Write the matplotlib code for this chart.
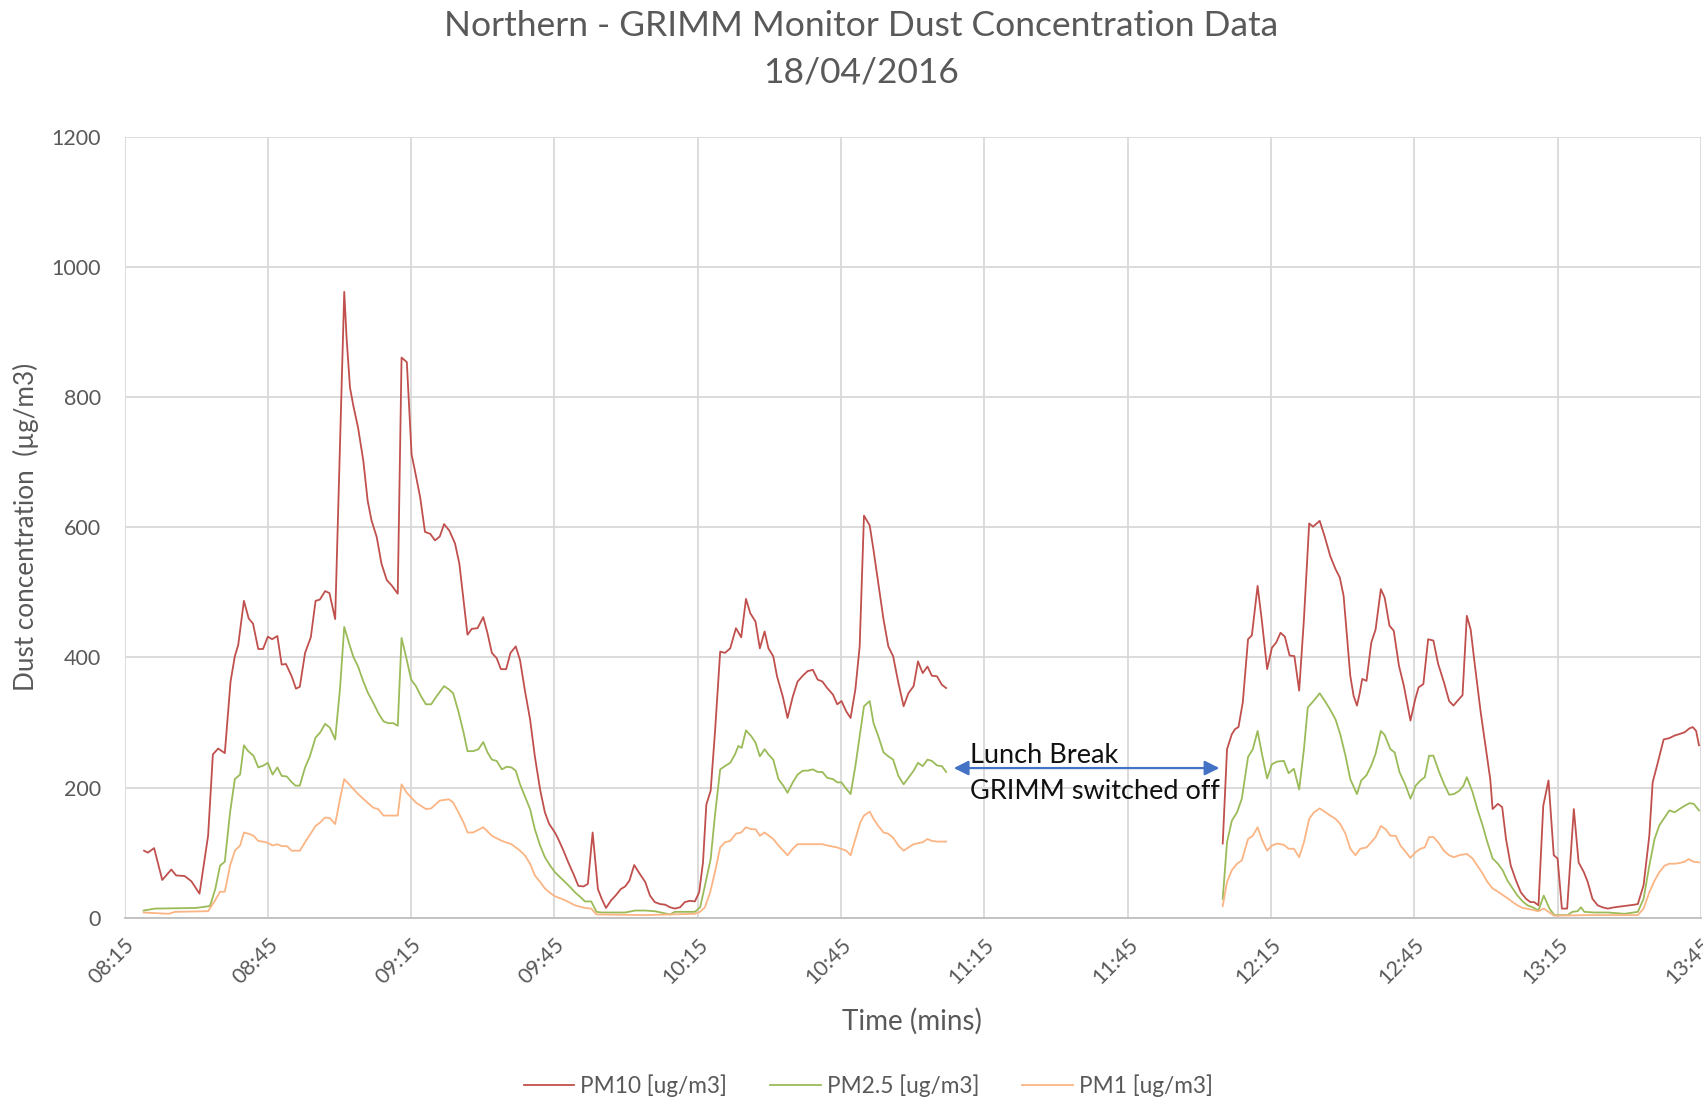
import numpy as np
import matplotlib
matplotlib.use("Agg")
import matplotlib.pyplot as plt

# ---------------- data (minutes after 08:15) ----------------
pm10_time = [4.1, 4.9, 6.2, 7.9, 9.8, 10.8, 12.6, 14, 15.7, 17.5, 18.5, 19.6, 21, 22.2, 23.1, 23.8, 25, 26, 26.9, 28,
             29, 30, 30.9, 32, 32.9, 33.8, 35, 35.9, 36.7, 37.8, 39, 40, 40.9, 42, 42.9, 44.1, 46.0, 46.5, 47.2, 47.9,
             48.9, 50, 50.9, 51.7, 52.8, 53.8, 54.9, 55.9, 57.2, 58.0, 59.1, 60.1, 60.8, 61.9, 62.9, 64, 65, 66, 66.9, 68,
             69.2, 70.1, 70.9, 71.8, 72.7, 73.9, 75.1, 76, 76.9, 77.9, 78.8, 79.9, 80.8, 81.9, 82.8, 83.8, 84.9, 85.9, 87, 88,
             88.9, 90.1, 90.8, 91.9, 92.9, 94, 95, 96.1, 97, 98, 99.1, 99.9, 100.8, 101.9, 102.8, 103.9, 104.8, 105.7, 106.7, 107.9,
             109, 110, 111, 112.1, 113.2, 114.2, 115.2, 116.3, 117.3, 118.4, 119.4, 120.3, 121.1, 121.8, 122.7, 123.6, 124.7, 125.7, 126.8, 128,
             129.1, 130.1, 131, 132.1, 133, 134, 134.8, 135.8, 136.6, 137.8, 138.8, 139.9, 140.9, 142, 143, 144.1, 145.1, 146.1, 147.1, 148.3,
             149.2, 150.1, 151.1, 152, 153, 153.9, 154.8, 156, 156.8, 157.8, 158.9, 159.9, 160.9, 162, 163.1, 164.1, 165.2, 166.1, 167.1, 168.1,
             169, 170.1, 171.1, 172,
             229.9, 230.8, 231.8, 232.5, 233.2, 234.1, 235.2, 236, 237.2, 238.1, 239.2, 240.2, 241.1, 242, 242.9, 243.9, 244.9, 245.9, 246.9, 248,
             248.8, 250.2, 251.2, 252.4, 253.5, 254.4, 255.2, 255.9, 256.6, 257.3, 258, 258.6, 259.1, 260, 261, 261.9, 263, 263.8, 264.8, 265.7,
             266.8, 267.8, 269.2, 270.2, 270.9, 271.9, 272.9, 274, 275, 276.2, 277.3, 278.2, 279, 280.1, 281, 281.8, 282.7, 283.9, 285, 285.9,
             286.4, 287.5, 288.4, 289.2, 290.2, 291.3, 292.3, 293.4, 294.3, 295.1, 296, 297, 298.1, 299.2, 300, 300.9, 302, 303.4, 304.4, 305.5,
             306.3, 307.3, 308.4, 309.4, 310.5, 311.9, 314, 316.1, 316.8, 318, 319.2, 319.9, 321, 322.2, 323.4, 324.5, 325.4, 326.6, 327.6, 328.3,
             329, 329.6]
pm10_value = [103, 100, 107, 58, 74, 65, 64, 56, 37, 126, 251, 260, 253, 363, 402, 419, 487, 460, 452, 413,
              413, 432, 428, 433, 389, 390, 371, 352, 355, 407, 431, 487, 489, 502, 499, 459, 962, 890, 815, 787,
              753, 702, 641, 611, 585, 544, 519, 511, 498, 861, 854, 712, 687, 646, 593, 590, 580, 586, 605, 595,
              575, 544, 493, 435, 444, 445, 462, 437, 407, 399, 382, 382, 407, 417, 396, 350, 305, 248, 197, 162,
              144, 131, 121, 103, 85, 67, 49, 48, 52, 131, 44, 29, 15, 27, 34, 44, 48, 57, 81, 67,
              55, 34, 24, 21, 20, 16, 14, 16, 24, 26, 25, 39, 85, 174, 195, 284, 409, 407, 414, 445,
              431, 490, 468, 455, 414, 440, 414, 402, 371, 340, 307, 340, 363, 372, 379, 381, 366, 363, 353, 343,
              328, 333, 317, 307, 351, 417, 618, 603, 565, 514, 458, 417, 402, 361, 325, 345, 356, 394, 376, 386,
              372, 371, 358, 353,
              114, 259, 282, 290, 293, 331, 428, 434, 510, 456, 382, 415, 423, 438, 432, 403, 402, 349, 459, 606,
              601, 610, 587, 556, 536, 523, 495, 433, 372, 341, 326, 346, 367, 364, 423, 443, 505, 492, 449, 441,
              387, 357, 303, 336, 354, 359, 428, 426, 390, 362, 333, 326, 333, 342, 464, 443, 387, 316, 259, 213,
              167, 175, 170, 121, 80, 57, 39, 29, 24, 24, 19, 172, 211, 96, 91, 14, 14, 167, 85, 70,
              55, 29, 19, 16, 14, 16, 18, 20, 21, 50, 126, 208, 239, 274, 276, 280, 282, 285, 291, 293,
              287, 265]

pm25_time = [4, 6.4, 15, 17.9, 19, 20, 21, 22.1, 23.1, 24.2, 25, 25.9, 27, 28, 29.1, 30, 31, 32, 32.9, 34,
             34.9, 35.8, 36.7, 37.8, 38.8, 40, 40.9, 42, 43, 44.1, 45.1, 46, 47, 47.9, 48.9, 50, 51, 52.1, 53.1, 54.2,
             55.2, 56.3, 57.2, 58, 59.1, 60, 61, 62.1, 63.1, 64.2, 65.2, 66.9, 67.9, 68.8, 69.9, 71, 71.8, 73, 74.1, 75.1,
             76, 76.9, 77.9, 79, 80, 81, 81.9, 82.8, 83.8, 84.9, 85.9, 87, 88, 89.1, 90.1, 91.2, 92.2, 93.3, 94.3, 95.4,
             96.4, 97.7, 98.8, 99.9, 104.8, 106.9, 109, 111, 114.2, 115.2, 119.4, 120.5, 121.5, 122.7, 123.6, 124.7, 125.7, 126.8, 127.8, 128.5,
             129.2, 130.1, 131.2, 132.1, 133, 134, 134.8, 135.8, 136.9, 137.9, 138.8, 139.9, 140.9, 142, 143, 144.1, 145.1, 146.1, 147.1, 148.3,
             149.2, 150.1, 151.1, 152, 153, 154, 154.8, 156, 156.8, 157.8, 158.9, 159.9, 160.9, 162, 163.1, 164.1, 165.2, 166.1, 167.1, 168.1,
             169, 170.1, 171.1, 172,
             229.9, 230.8, 231.8, 232.9, 233.9, 235.2, 236.2, 237.2, 238.1, 239.2, 240.2, 241.3, 242.7, 243.7, 244.8, 245.9, 246.9, 247.7, 249, 250.2,
             251.2, 252.3, 253.5, 254.5, 255.6, 256.6, 258, 258.9, 260, 261, 261.9, 263, 263.8, 265, 265.9, 266.9, 268.2, 269.2, 270.3, 271.3,
             272.2, 273.1, 274, 275.2, 276.2, 277.3, 278.3, 279.4, 280.3, 281, 282.2, 283.2, 284.3, 285.3, 286.4, 287.5, 288.5, 289.5, 290.6, 291.6,
             292.7, 293.7, 294.8, 296, 297.1, 298.3, 299.3, 302.1, 303.1, 304.2, 304.9, 305.6, 307.7, 310.5, 314, 316.8, 318, 319.2, 320.3, 321.3,
             322.4, 323.4, 324.5, 325.5, 326.6, 327.6, 328.5, 329.6]
pm25_value = [11, 14, 15, 18, 44, 80, 86, 162, 213, 220, 265, 256, 249, 231, 234, 238, 220, 231, 218, 217,
              209, 203, 203, 231, 248, 277, 284, 298, 292, 274, 351, 447, 422, 401, 386, 363, 345, 330, 315, 302,
              299, 299, 295, 430, 396, 366, 356, 340, 328, 328, 339, 356, 351, 345, 317, 284, 256, 256, 259, 270,
              254, 243, 241, 228, 232, 231, 226, 205, 187, 167, 136, 111, 93, 80, 70, 62, 55, 47, 39, 32,
              25, 25, 9, 8, 8, 11, 11, 10, 5, 9, 9, 16, 49, 90, 157, 228, 233, 238, 251, 264,
              261, 288, 279, 269, 248, 259, 251, 243, 213, 203, 192, 208, 220, 226, 226, 228, 224, 224, 215, 213,
              208, 208, 198, 190, 233, 284, 325, 333, 299, 279, 254, 248, 243, 218, 205, 215, 226, 238, 233, 243,
              241, 234, 233, 224,
              29, 116, 149, 162, 183, 247, 259, 287, 252, 214, 236, 240, 241, 222, 229, 197, 259, 323, 334, 345,
              334, 321, 305, 282, 249, 213, 190, 211, 219, 234, 252, 287, 281, 259, 254, 224, 203, 183, 203, 211,
              216, 249, 249, 224, 206, 189, 190, 195, 203, 216, 193, 167, 142, 116, 91, 83, 73, 57, 45, 34,
              25, 19, 16, 11, 34, 14, 4, 4, 9, 10, 16, 9, 8, 8, 6, 9, 29, 80, 121, 142,
              154, 165, 162, 167, 172, 176, 175, 165]

pm1_time = [4, 9.2, 10.6, 17.5, 19, 20, 21, 22.1, 23.1, 24.2, 25, 26, 27, 28, 29, 30, 31, 32, 32.9, 34,
            35, 36.7, 37.8, 40, 40.9, 42, 43, 44.1, 45.1, 46, 47, 48.9, 51, 52.1, 53.1, 54.2, 56.3, 57.2, 58, 59.1,
            61, 63.1, 64.2, 66, 67.9, 68.8, 69.9, 71, 71.8, 73, 75.1, 76.9, 79, 81, 82.8, 83.8, 84.9, 85.9, 87, 88,
            89.1, 90.1, 92.2, 94.3, 96.4, 97.7, 98.8, 109, 114.2, 119.4, 120.5, 121.5, 122.6, 123.6, 124.7, 125.7, 126.8, 128, 129.1, 130.1,
            131.2, 132.1, 133, 134, 135.8, 136.9, 137.9, 138.8, 139.9, 140.9, 143, 146.1, 147.1, 149.2, 151.1, 152, 153, 154, 154.8, 156,
            156.8, 157.8, 158.9, 159.9, 160.9, 162, 163.1, 164.1, 165.2, 167.1, 168.1, 169, 170.1, 172,
            229.9, 230.8, 231.8, 232.9, 233.9, 235.2, 236.2, 237.2, 238.1, 239.2, 240.2, 241.3, 242.7, 243.7, 244.8, 245.9, 246.9, 248, 249, 250.2,
            251.2, 252.4, 253.5, 254.5, 255.6, 256.6, 257.7, 258.7, 260, 261, 261.9, 263, 264, 265, 266.1, 267.1, 268.2, 269.2, 270.3, 271.3,
            272.2, 273.1, 274, 275.2, 276.2, 277.3, 278.3, 279.4, 281, 282.2, 283.2, 284.3, 285.3, 286.4, 287.5, 288.5, 289.5, 290.6, 291.6, 292.7,
            294.1, 296, 297.1, 298.3, 299.3, 305.6, 316.8, 318, 319.2, 320.3, 321.3, 322.4, 323.4, 324.5, 325.5, 326.6, 327.4, 328.5, 329.6]
pm1_value = [8, 6, 9, 10, 27, 40, 40, 80, 103, 111, 131, 129, 126, 118, 117, 115, 111, 113, 110, 110,
             103, 103, 116, 141, 146, 154, 153, 144, 182, 213, 205, 190, 176, 169, 167, 157, 157, 157, 205, 192,
             177, 167, 168, 180, 182, 177, 162, 146, 131, 131, 139, 126, 118, 113, 103, 96, 83, 65, 55, 45,
             38, 33, 27, 19, 15, 14, 5, 4, 5, 6, 9, 16, 39, 70, 108, 116, 118, 129, 131, 139,
             136, 136, 126, 131, 121, 111, 103, 96, 106, 113, 113, 113, 111, 108, 103, 96, 121, 146, 157, 163,
             152, 141, 131, 129, 123, 111, 103, 108, 113, 116, 121, 118, 117, 117,
             18, 55, 73, 83, 88, 121, 126, 139, 120, 103, 111, 114, 112, 106, 106, 93, 116, 152, 162, 168,
             163, 157, 152, 144, 129, 106, 96, 106, 108, 116, 124, 141, 136, 126, 126, 111, 101, 92, 101, 106,
             108, 124, 124, 114, 103, 96, 93, 96, 98, 91, 80, 68, 55, 45, 40, 35, 30, 24, 19, 15,
             13, 10, 14, 8, 3, 4, 4, 14, 39, 57, 70, 80, 83, 83, 84, 86, 90, 86, 85]

tick_minutes = [0, 30, 60, 90, 120, 150, 180, 210, 240, 270, 300, 330]
tick_labels = ["08:15", "08:45", "09:15", "09:45", "10:15", "10:45", "11:15",
               "11:45", "12:15", "12:45", "13:15", "13:45"]
series_names = ["PM10 [ug/m3]", "PM2.5 [ug/m3]", "PM1 [ug/m3]"]
series_colors = ["#C0504D", "#9BBB59", "#FBB584"]

plt.rcParams['font.family'] = ['Lato', 'DejaVu Sans']
txt = "#595959"


def with_gaps(t, v):
    t = np.asarray(t, float)
    v = np.asarray(v, float)
    out_t, out_v = [t[0]], [v[0]]
    for i in range(1, len(t)):
        if t[i] - t[i - 1] > 20:
            out_t.append(np.nan)
            out_v.append(np.nan)
        out_t.append(t[i])
        out_v.append(v[i])
    return np.array(out_t), np.array(out_v)


fig = plt.figure(figsize=(17.03, 11.04), dpi=100)
ax = fig.add_axes([124.5 / 1703, 1 - 917.7 / 1104, (1700.9 - 124.5) / 1703, (917.7 - 137) / 1104])

for (t, v), name, col in zip([(pm10_time, pm10_value), (pm25_time, pm25_value), (pm1_time, pm1_value)],
                             series_names, series_colors):
    tt, vv = with_gaps(t, v)
    ax.plot(tt, vv, color=col, lw=1.3, label=name, solid_joinstyle='round')

ax.set_xlim(0, 330)
ax.set_ylim(0, 1200)
ax.set_yticks(range(0, 1201, 200))
ax.set_xticks(tick_minutes)
ax.set_xticklabels(tick_labels, rotation=45, ha='right', va='top', rotation_mode='anchor')
ax.tick_params(axis='both', length=0, labelsize=15.5, labelcolor=txt)
ax.tick_params(axis='y', pad=17)
ax.tick_params(axis='x', pad=12)
ax.grid(True, color="#D9D9D9", lw=1.3)
ax.set_axisbelow(True)
for s in ['top', 'right', 'left']:
    ax.spines[s].set_visible(False)
ax.spines['bottom'].set_color("#BFBFBF")
ax.spines['bottom'].set_linewidth(1.3)

fig.text(861 / 1703, 1 - 26 / 1104, "Northern - GRIMM Monitor Dust Concentration Data",
         ha='center', va='center', fontsize=25.5, color=txt)
fig.text(861 / 1703, 1 - 73 / 1104, "18/04/2016", ha='center', va='center', fontsize=25.5, color=txt)
fig.text(26 / 1703, 1 - 527 / 1104, "Dust concentration  (\u00b5g/m3)", rotation=90,
         ha='center', va='center', fontsize=18.8, color=txt)
fig.text(912 / 1703, 1 - 1021 / 1104, "Time (mins)", ha='center', va='center', fontsize=20, color=txt)

ax.annotate("", xy=(173.6, 230), xytext=(229.2, 230),
            arrowprops=dict(arrowstyle='<|-|>', color="#4472C4", lw=1.6, mutation_scale=22,
                            shrinkA=0, shrinkB=0))
ax.text(176.9, 250, "Lunch Break", ha='left', va='center', fontsize=19.5, color="#111111")
ax.text(176.9, 194, "GRIMM switched off", ha='left', va='center', fontsize=19.5, color="#111111")

fig.legend(loc='center', bbox_to_anchor=(868 / 1703, 1 - 1086 / 1104), ncol=3, frameon=False,
           fontsize=16.3, handlelength=2.25, handletextpad=0.25, columnspacing=1.9,
           labelcolor=txt)

fig.savefig("out.png", dpi=100)
